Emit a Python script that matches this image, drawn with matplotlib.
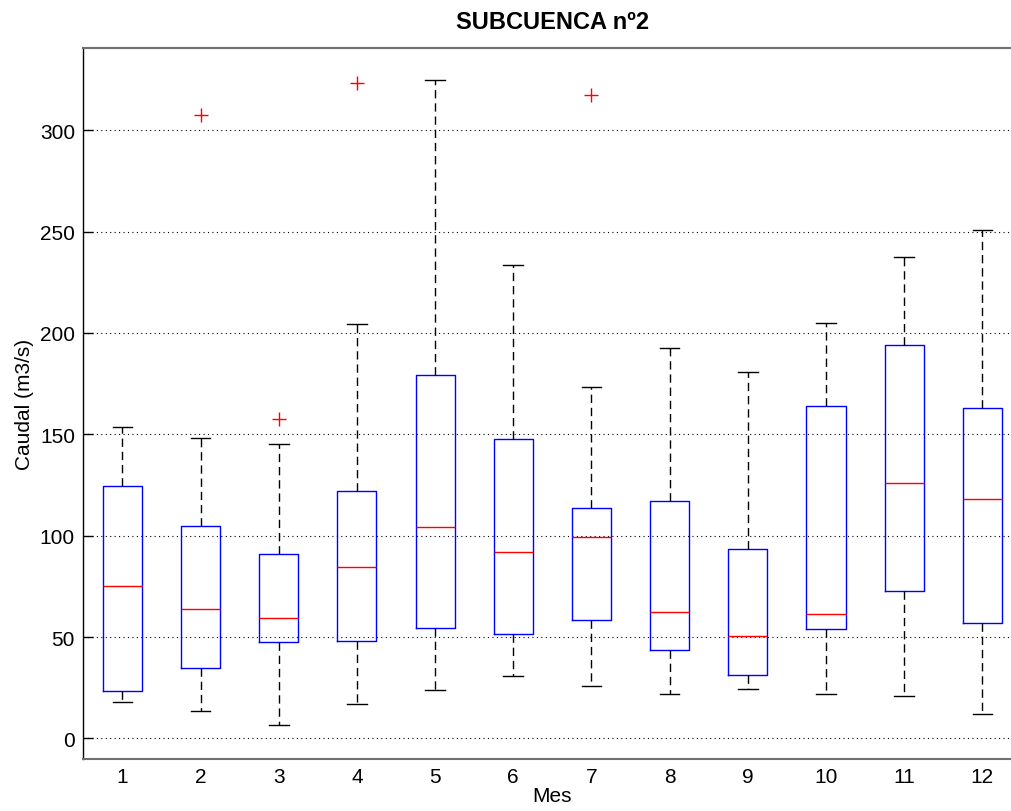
import matplotlib
matplotlib.use("Agg")
import matplotlib.pyplot as plt

months = [1, 2, 3, 4, 5, 6, 7, 8, 9, 10, 11, 12]
whisker_low = [17.9, 13.5, 6.6, 17.1, 24.0, 30.6, 25.7, 22.0, 24.5, 22.0, 21.1, 12.0]
q1 = [23.5, 34.5, 47.8, 48.3, 54.7, 51.3, 58.4, 43.4, 31.4, 53.9, 72.8, 56.9]
median = [75.3, 63.8, 59.4, 84.8, 104.2, 92.2, 99.3, 62.3, 50.3, 61.3, 126.1, 118.2]
q3 = [124.6, 104.7, 91.2, 122.1, 179.5, 147.6, 113.8, 117.0, 93.2, 164.1, 194.3, 162.9]
whisker_high = [153.4, 148.1, 145.2, 204.3, 325.0, 233.4, 173.4, 192.8, 180.5, 204.8, 237.5, 251.0]
outliers = [[], [307.7], [157.6], [323.2], [], [], [317.3], [], [], [], [], []]
yticks = [0, 50, 100, 150, 200, 250, 300]

plt.rcParams['font.family'] = ['Liberation Sans', 'DejaVu Sans']

fig = plt.figure(figsize=(10.12, 8.12), dpi=100)
ax = fig.add_axes([0.0823, 0.0644, 1.0093 - 0.0823, 0.940 - 0.0644])

stats = []
for i in range(len(months)):
    stats.append(dict(med=median[i], q1=q1[i], q3=q3[i],
                      whislo=whisker_low[i], whishi=whisker_high[i],
                      fliers=outliers[i], label=str(months[i])))

ax.bxp(stats, positions=months, widths=0.5, capwidths=0.25,
       boxprops=dict(color='#0000ff', linewidth=1.0),
       medianprops=dict(color='#ff0000', linewidth=1.0),
       whiskerprops=dict(color='black', linewidth=1.0, linestyle=(0, (6, 3.5))),
       capprops=dict(color='black', linewidth=1.0),
       flierprops=dict(marker='+', markeredgecolor='#ff0000', markersize=10,
                       markeredgewidth=1.0, linestyle='none'),
       showfliers=True)

ax.set_xlim(0.5, 12.5)
ax.set_ylim(-10, 340.7)
ax.set_yticks(yticks)
ax.set_xticks(months)
ax.set_xticklabels([str(m) for m in months])
ax.yaxis.grid(True, linestyle=(0, (1, 3)), color='black', linewidth=0.8)
ax.set_axisbelow(True)

ax.tick_params(axis='y', direction='in', length=7, width=1, labelsize=15, pad=6)
ax.tick_params(axis='x', length=0, labelsize=15, pad=6)
for s in ['top', 'bottom']:
    ax.spines[s].set_color('#707070')
    ax.spines[s].set_linewidth(1.5)
ax.spines['left'].set_color('black')
ax.spines['left'].set_linewidth(1.0)
ax.spines['right'].set_visible(False)

ax.set_title('SUBCUENCA nº2', fontsize=17, fontweight='bold', pad=14)
ax.set_xlabel('Mes', fontsize=15, labelpad=0)
ax.set_ylabel('Caudal (m3/s)', fontsize=15, labelpad=4)

fig.savefig('out.png', dpi=100)
